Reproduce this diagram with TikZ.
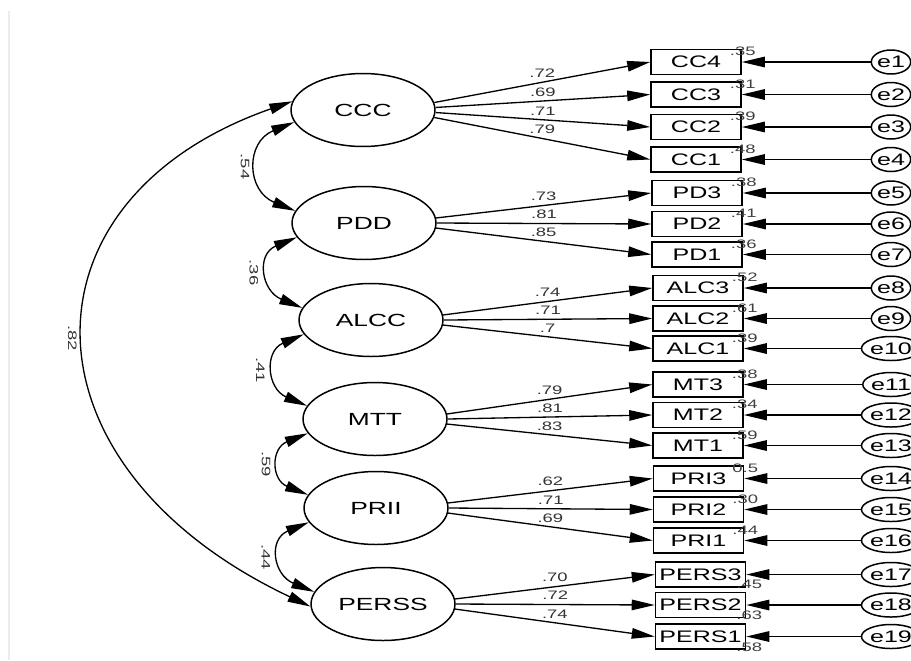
\documentclass[tikz,border=0pt]{standalone}
\usepackage{fontspec}
\setmainfont[FakeStretch=1.5]{Liberation Sans}
\usetikzlibrary{shapes.geometric,arrows.meta,positioning}

\tikzset{
  >={Triangle[length=0.46cm,width=0.21cm]},
  latent/.style={draw, ellipse, line width=0.85pt, minimum width=2.88cm, minimum height=1.46cm, inner sep=0pt, font=\fontsize{10}{11}\selectfont},
  item/.style={draw, rectangle, line width=0.9pt, minimum width=1.8cm, minimum height=0.5cm, inner sep=0pt, font=\fontsize{9.5}{10}\selectfont},
  err/.style={draw, ellipse, line width=0.85pt, minimum width=0.76cm, minimum height=0.48cm, inner sep=0pt, font=\fontsize{9.5}{10}\selectfont},
  load/.style={inner sep=0pt, text=black!80, font=\fontsize{7}{8}\selectfont},
  rsq/.style={inner sep=0pt, text=black!75, font=\fontsize{7}{8}\selectfont},
  corr/.style={inner sep=0pt, text=black!80, font=\fontsize{7}{8}\selectfont},
}

\begin{document}
\begin{tikzpicture}[x=0.02cm, y=-0.02cm, line width=0.75pt]
\useasboundingbox (0,0) rectangle (911,660);
\draw[gray!15, line width=1.2pt] (9,11) -- (9,660);

% latent factors
\node[latent] (CCC) at (363,110) {CCC};
\node[latent] (PDD) at (364,223) {PDD};
\node[latent] (ALCC) at (371,320) {ALCC};
\node[latent] (MTT) at (375,419) {MTT};
\node[latent] (PRII) at (376,508) {PRII};
\node[latent] (PERSS) at (383,604) {PERSS};

% observed items
\node[item] (CC4) at (696,62) {CC4};
\node[item] (CC3) at (696,94.5) {CC3};
\node[item] (CC2) at (696,127) {CC2};
\node[item] (CC1) at (696,159.5) {CC1};
\node[item] (PD3) at (697,193) {PD3};
\node[item] (PD2) at (697,224) {PD2};
\node[item] (PD1) at (697,254.5) {PD1};
\node[item] (ALC3) at (698,288) {ALC3};
\node[item] (ALC2) at (698,318.5) {ALC2};
\node[item] (ALC1) at (698,348.5) {ALC1};
\node[item] (MT3) at (698,384.5) {MT3};
\node[item] (MT2) at (698,415) {MT2};
\node[item] (MT1) at (698,445.5) {MT1};
\node[item] (PRI3) at (698.5,478.5) {PRI3};
\node[item] (PRI2) at (698.5,509.5) {PRI2};
\node[item] (PRI1) at (698.5,540.5) {PRI1};
\node[item] (PERS3) at (700.5,574.5) {PERS3};
\node[item] (PERS2) at (700.5,605) {PERS2};
\node[item] (PERS1) at (700.5,636.5) {PERS1};

% error terms
\node[err] (e1) at (891,62) {e1};
\node[err] (e2) at (891,94.5) {e2};
\node[err] (e3) at (891,127) {e3};
\node[err] (e4) at (891,159.5) {e4};
\node[err] (e5) at (891,193) {e5};
\node[err] (e6) at (891,224) {e6};
\node[err] (e7) at (891,254.5) {e7};
\node[err] (e8) at (891,288) {e8};
\node[err] (e9) at (891,318.5) {e9};
\node[err] (e10) at (891,348.5) {e10};
\node[err] (e11) at (891,384.5) {e11};
\node[err] (e12) at (891,415) {e12};
\node[err] (e13) at (891,445.5) {e13};
\node[err] (e14) at (891,478.5) {e14};
\node[err] (e15) at (891,509.5) {e15};
\node[err] (e16) at (891,540.5) {e16};
\node[err] (e17) at (891,574.5) {e17};
\node[err] (e18) at (891,605) {e18};
\node[err] (e19) at (891,636.5) {e19};

% squared multiple correlations
\node[rsq] (r1) at ([xshift=0.02cm,yshift=-0.06cm]CC4.north east) {.35};
\node[rsq] (r2) at ([xshift=0.02cm,yshift=-0.06cm]CC3.north east) {.31};
\node[rsq] (r3) at ([xshift=0.02cm,yshift=-0.06cm]CC2.north east) {.39};
\node[rsq] (r4) at ([xshift=0.02cm,yshift=-0.06cm]CC1.north east) {.48};
\node[rsq] (r5) at ([xshift=0.02cm,yshift=-0.06cm]PD3.north east) {.38};
\node[rsq] (r6) at ([xshift=0.02cm,yshift=-0.06cm]PD2.north east) {.41};
\node[rsq] (r7) at ([xshift=0.02cm,yshift=-0.06cm]PD1.north east) {.36};
\node[rsq] (r8) at ([xshift=0.02cm,yshift=-0.06cm]ALC3.north east) {.52};
\node[rsq] (r9) at ([xshift=0.02cm,yshift=-0.06cm]ALC2.north east) {.61};
\node[rsq] (r10) at ([xshift=0.02cm,yshift=-0.06cm]ALC1.north east) {.39};
\node[rsq] (r11) at ([xshift=0.02cm,yshift=-0.06cm]MT3.north east) {.38};
\node[rsq] (r12) at ([xshift=0.02cm,yshift=-0.06cm]MT2.north east) {.34};
\node[rsq] (r13) at ([xshift=0.02cm,yshift=-0.06cm]MT1.north east) {.59};
\node[rsq] (r14) at ([xshift=0.02cm,yshift=-0.06cm]PRI3.north east) {0.5};
\node[rsq] (r15) at ([xshift=0.02cm,yshift=-0.06cm]PRI2.north east) {.30};
\node[rsq] (r16) at ([xshift=0.02cm,yshift=-0.06cm]PRI1.north east) {.44};
\node[rsq] (r17) at ([xshift=0.06cm,yshift=0.06cm]PERS3.south east) {.45};
\node[rsq] (r18) at ([xshift=0.06cm,yshift=0.06cm]PERS2.south east) {.63};
\node[rsq] (r19) at ([xshift=0.06cm,yshift=0.06cm]PERS1.south east) {.58};

% loadings
\draw[->] (CCC.6) -- node[load, above=0.08cm] (l1) {.72} (CC4.west);
\draw[->] (CCC.2) -- node[load, above=0.08cm] (l2) {.69} (CC3.west);
\draw[->] (CCC.-2) -- node[load, above=0.08cm] (l3) {.71} (CC2.west);
\draw[->] (CCC.-6) -- node[load, above=0.08cm] (l4) {.79} (CC1.west);
\draw[->] (PDD.4) -- node[load, above=0.08cm] (l5) {.73} (PD3.west);
\draw[->] (PDD.0) -- node[load, above=0.08cm] (l6) {.81} (PD2.west);
\draw[->] (PDD.-4) -- node[load, above=0.08cm] (l7) {.85} (PD1.west);
\draw[->] (ALCC.4) -- node[load, above=0.08cm] (l8) {.74} (ALC3.west);
\draw[->] (ALCC.0) -- node[load, above=0.08cm] (l9) {.71} (ALC2.west);
\draw[->] (ALCC.-4) -- node[load, above=0.08cm] (l10) {.7} (ALC1.west);
\draw[->] (MTT.4) -- node[load, above=0.08cm] (l11) {.79} (MT3.west);
\draw[->] (MTT.0) -- node[load, above=0.08cm] (l12) {.81} (MT2.west);
\draw[->] (MTT.-4) -- node[load, above=0.08cm] (l13) {.83} (MT1.west);
\draw[->] (PRII.4) -- node[load, above=0.08cm] (l14) {.62} (PRI3.west);
\draw[->] (PRII.0) -- node[load, above=0.08cm] (l15) {.71} (PRI2.west);
\draw[->] (PRII.-4) -- node[load, above=0.08cm] (l16) {.69} (PRI1.west);
\draw[->] (PERSS.4) -- node[load, above=0.08cm] (l17) {.70} (PERS3.west);
\draw[->] (PERSS.0) -- node[load, above=0.08cm] (l18) {.72} (PERS2.west);
\draw[->] (PERSS.-4) -- node[load, above=0.08cm] (l19) {.74} (PERS1.west);

% error paths
\draw[->] (e1) -- (CC4);
\draw[->] (e2) -- (CC3);
\draw[->] (e3) -- (CC2);
\draw[->] (e4) -- (CC1);
\draw[->] (e5) -- (PD3);
\draw[->] (e6) -- (PD2);
\draw[->] (e7) -- (PD1);
\draw[->] (e8) -- (ALC3);
\draw[->] (e9) -- (ALC2);
\draw[->] (e10) -- (ALC1);
\draw[->] (e11) -- (MT3);
\draw[->] (e12) -- (MT2);
\draw[->] (e13) -- (MT1);
\draw[->] (e14) -- (PRI3);
\draw[->] (e15) -- (PRI2);
\draw[->] (e16) -- (PRI1);
\draw[->] (e17) -- (PERS3);
\draw[->] (e18) -- (PERS2);
\draw[->] (e19) -- (PERS1);

% covariances
\draw[<->] (CCC.190) .. controls +(-49,20) and +(-49,-20) .. node[corr, pos=.5, xshift=-0.26cm, rotate=-90] (c1) {.54} (PDD.170);
\draw[<->] (PDD.192) .. controls +(-41,17) and +(-41,-17) .. node[corr, pos=.5, xshift=-0.3cm, rotate=-90] (c2) {.36} (ALCC.170);
\draw[<->] (ALCC.192) .. controls +(-40,17) and +(-40,-17) .. node[corr, pos=.5, xshift=-0.3cm, rotate=-90] (c3) {.41} (MTT.169);
\draw[<->] (MTT.192) .. controls +(-37,15) and +(-37,-15) .. node[corr, pos=.5, xshift=-0.28cm, rotate=-90] (c4) {.59} (PRII.169);
\draw[<->] (PRII.192) .. controls +(-41,17) and +(-41,-17) .. node[corr, pos=.5, xshift=-0.3cm, rotate=-90] (c5) {.44} (PERSS.170);
\draw[<->] (CCC.173) .. controls +(-280,98) and +(-296,-140) .. node[corr, pos=.5, xshift=-0.26cm, rotate=-90] (c6) {.82} (PERSS.182);
\end{tikzpicture}
\end{document}
